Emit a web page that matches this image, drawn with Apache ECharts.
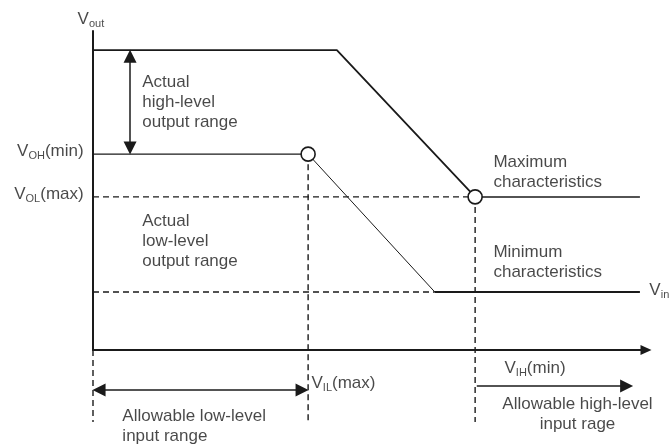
<!DOCTYPE html>
<html>
<head>
<meta charset="utf-8">
<script src="https://cdn.jsdelivr.net/npm/echarts@6/dist/echarts.min.js"></script>
<style>
html,body{margin:0;padding:0;background:#fff}
#chart{width:671px;height:447px}
</style>
</head>
<body>
<div id="chart"></div>
<script>
// transfer characteristics, both axes in relative units (0..100)
var inputLevels = [38.9, 69.1];    // VIL(max), VIH(min)
var outputLevels = [61.4, 48];     // VOH(min), VOL(max)
var maxCurveX = [0, 44.1, 69.1, 98.9];
var maxCurveY = [94, 94, 48, 48];
var minCurveX = [0, 38.9, 61.8, 98.9];
var minCurveY = [61.4, 61.4, 18.2, 18.2];
var guideBottom = -22.6;           // dashed guides go below the Vin axis

var vIlMax = inputLevels[0], vIhMin = inputLevels[1];
var vOhMin = outputLevels[0], vOlMax = outputLevels[1];

var ink = '#1a1a1a';
var font = 'Liberation Sans';

function pts(xs, ys, from, to){
  var out = [];
  for (var i = from; i <= to; i++) out.push([xs[i], ys[i]]);
  return out;
}

function seg(data, width, dashed){
  return {
    type: 'line',
    data: data,
    symbol: 'none',
    clip: false,
    silent: true,
    z: 2,
    lineStyle: {color: ink, width: width, type: dashed ? [6, 4] : 'solid'}
  };
}

var series = [];
//maximum characteristics
series.push(seg(pts(maxCurveX, maxCurveY, 0, 2), 1.8));
series.push(seg(pts(maxCurveX, maxCurveY, 2, 3), 1.5));
//minimum characteristics
series.push(seg(pts(minCurveX, minCurveY, 0, 1), 1.3));
series.push(seg(pts(minCurveX, minCurveY, 1, 2), 1));
series.push(seg(pts(minCurveX, minCurveY, 2, 3), 2));
//dashed guides
series.push(seg([[0, vOlMax], [vIhMin, vOlMax]], 1.4, true));
series.push(seg([[0, minCurveY[2]], [minCurveX[2], minCurveY[2]]], 1.4, true));
series.push(seg([[0, 0], [0, guideBottom]], 1.4, true));
series.push(seg([[vIlMax, vOhMin], [vIlMax, guideBottom]], 1.4, true));
series.push(seg([[vIhMin, vOlMax], [vIhMin, guideBottom]], 1.4, true));

//open circles at the guaranteed points
series.push({
  type: 'scatter',
  data: [[vIlMax, vOhMin], [vIhMin, vOlMax]],
  symbol: 'circle',
  symbolSize: 14,
  clip: false,
  silent: true,
  z: 5,
  itemStyle: {color: '#fff', borderColor: ink, borderWidth: 1.6, opacity: 1}
});

//range arrows (end points pulled in by half a head so the tips touch)
var insetX = 1.1, insetY = 1.9;
series.push({
  type: 'lines',
  coordinateSystem: 'cartesian2d',
  clip: false,
  silent: true,
  z: 3,
  symbol: ['triangle', 'triangle'],
  symbolSize: 13,
  lineStyle: {color: ink, width: 1.5, opacity: 1},
  data: [
    {coords: [[6.7, maxCurveY[0] - insetY], [6.7, vOhMin + insetY]]},
    {coords: [[0 + insetX, -12.5], [vIlMax - insetX, -12.5]]}
  ]
});
series.push({
  type: 'lines',
  coordinateSystem: 'cartesian2d',
  clip: false,
  silent: true,
  z: 3,
  symbol: ['none', 'triangle'],
  symbolSize: 13,
  lineStyle: {color: ink, width: 1.5, opacity: 1},
  data: [
    {coords: [[vIhMin + 0.3, -11.3], [97.6 - insetX, -11.3]]}
  ]
});

//texts
var rich = {
  m: {fontFamily: font, fontSize: 17, color: ink},
  s: {fontFamily: font, fontSize: 11, color: ink, padding: [9, 0, 0, 0]}
};
function txt(x, y, text, align){
  return {
    value: [x, y],
    label: {
      show: true,
      position: [0, 0],
      align: align || 'left',
      verticalAlign: 'middle',
      formatter: text,
      fontFamily: font,
      fontSize: 17,
      lineHeight: 20,
      color: ink,
      rich: rich
    }
  };
}
series.push({
  type: 'scatter',
  symbol: 'circle',
  symbolSize: 1,
  clip: false,
  silent: true,
  z: 6,
  itemStyle: {color: 'transparent'},
  data: [
    txt(-2.7, 103.5, '{m|V}{s|out}'),
    txt(9.0, 77.4, 'Actual\nhigh-level\noutput range'),
    txt(-1.6, 62.0, '{m|V}{s|OH}{m|(min)}', 'right'),
    txt(-1.6, 48.6, '{m|V}{s|OL}{m|(max)}', 'right'),
    txt(9.0, 33.9, 'Actual\nlow-level\noutput range'),
    txt(72.5, 55.5, 'Maximum\ncharacteristics'),
    txt(72.5, 27.3, 'Minimum\ncharacteristics'),
    txt(100.7, 18.5, '{m|V}{s|in}'),
    txt(39.6, -10.7, '{m|V}{s|IL}{m|(max)}'),
    txt(74.5, -6.0, '{m|V}{s|IH}{m|(min)}'),
    txt(87.7, -20.4, 'Allowable high-level\ninput rage', 'center'),
    txt(5.4, -24.1, 'Allowable low-level\ninput range')
  ]
});

var chart = echarts.init(document.getElementById('chart'));
chart.setOption({
  animation: false,
  backgroundColor: '#fff',
  grid: {left: 93, right: 25, top: 31, bottom: 97},
  xAxis: {
    type: 'value', min: 0, max: 100,
    axisLine: {show: true, onZero: true, symbol: ['none', 'triangle'], symbolSize: [10, 11],
      lineStyle: {color: ink, width: 2}},
    axisTick: {show: false}, axisLabel: {show: false}, splitLine: {show: false}
  },
  yAxis: {
    type: 'value', min: 0, max: 100,
    axisLine: {show: true, lineStyle: {color: ink, width: 2}},
    axisTick: {show: false}, axisLabel: {show: false}, splitLine: {show: false}
  },
  series: series
});
</script>
</body>
</html>
